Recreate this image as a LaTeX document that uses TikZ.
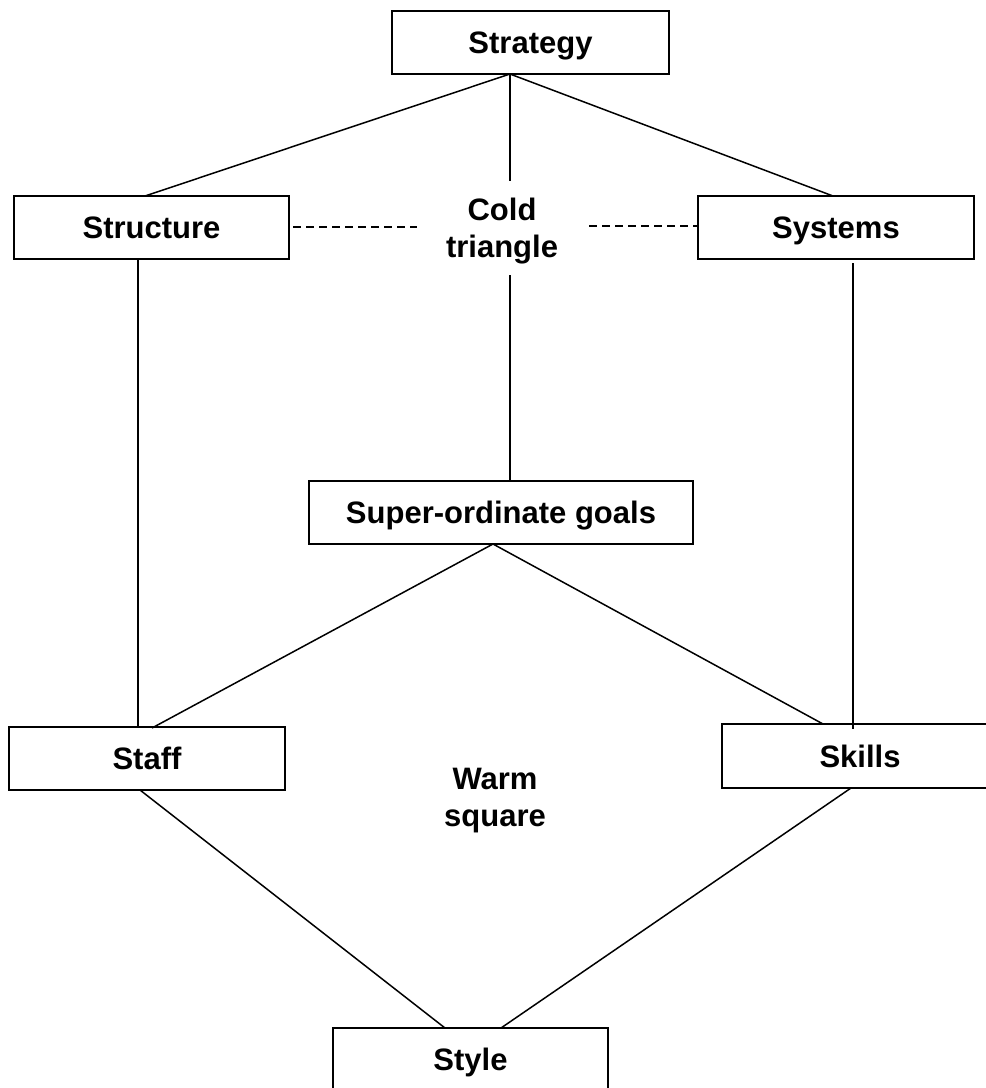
\documentclass[tikz,border=0pt]{standalone}
\usepackage{fontspec}
\setmainfont{Liberation Sans}
\begin{document}
\begin{tikzpicture}[x=1pt,y=-1pt,
  box/.style={draw=black, line width=1.8pt, minimum width=#1, minimum height=63pt,
    inner sep=0pt, text height=22pt, text depth=0pt,
    font=\fontsize{31}{37}\selectfont\bfseries},
  box/.default=276pt,
  lbl/.style={align=center, inner sep=0pt, font=\fontsize{31}{37}\selectfont\bfseries},
  link/.style={draw=black, line width=1.5pt},
  weak/.style={draw=black, line width=1.5pt, dash pattern=on 8pt off 5pt}]
\useasboundingbox (0,0) rectangle (986,1088);
% boxes
\node[box=277pt] (strategy) at (530.5,42.5) {Strategy};
\node[box=275pt] (structure) at (151.5,227.5) {Structure};
\node[box=276pt] (systems) at (836,227.5) {Systems};
\node[box=384pt] (goals) at (501,512.5) {Super-ordinate goals};
\node[box=276pt] (staff) at (147,758.5) {Staff};
\node[box=276pt, minimum height=64pt] (skills) at (860,756) {Skills};
\node[box=275pt] (style) at (470.5,1059.5) {Style};
% labels
\node[lbl] (cold) at (502,231) {Cold\\triangle};
\node[lbl] (warm) at (495,801) {Warm\\square};
% connector end points
\coordinate (apex) at (510,74);
\coordinate (coldtop) at (510,181);
\coordinate (coldbot) at (510,275);
\coordinate (dashL) at (417,227);
\coordinate (dashR) at (589,226);
\coordinate (goalsB) at (493,544);
\coordinate (structT) at (145,196);
\coordinate (sysT) at (833,196);
\coordinate (structB) at (138,259);
\coordinate (staffTv) at (138,727);
\coordinate (sysB) at (853,263);
\coordinate (skillsTv) at (853,729);
\coordinate (staffTd) at (152,728);
\coordinate (skillsTd) at (823,724);
\coordinate (staffB) at (140,790);
\coordinate (skillsB) at (851,788);
\coordinate (styleTL) at (445,1028);
\coordinate (styleTR) at (501,1028);
\coordinate (goalsT) at (510,481);
\coordinate (structR) at (293,227);
\coordinate (sysL) at (699,226);
% connectors
\draw[link] (apex) -- (structT);
\draw[link] (apex) -- (coldtop);
\draw[link] (apex) -- (sysT);
\draw[weak] (structR) -- (dashL);
\draw[weak] (dashR) -- (sysL);
\draw[link] (coldbot) -- (goalsT);
\draw[link] (structB) -- (staffTv);
\draw[link] (sysB) -- (skillsTv);
\draw[link] (goalsB) -- (staffTd);
\draw[link] (goalsB) -- (skillsTd);
\draw[link] (staffB) -- (styleTL);
\draw[link] (skillsB) -- (styleTR);
\end{tikzpicture}
\end{document}
